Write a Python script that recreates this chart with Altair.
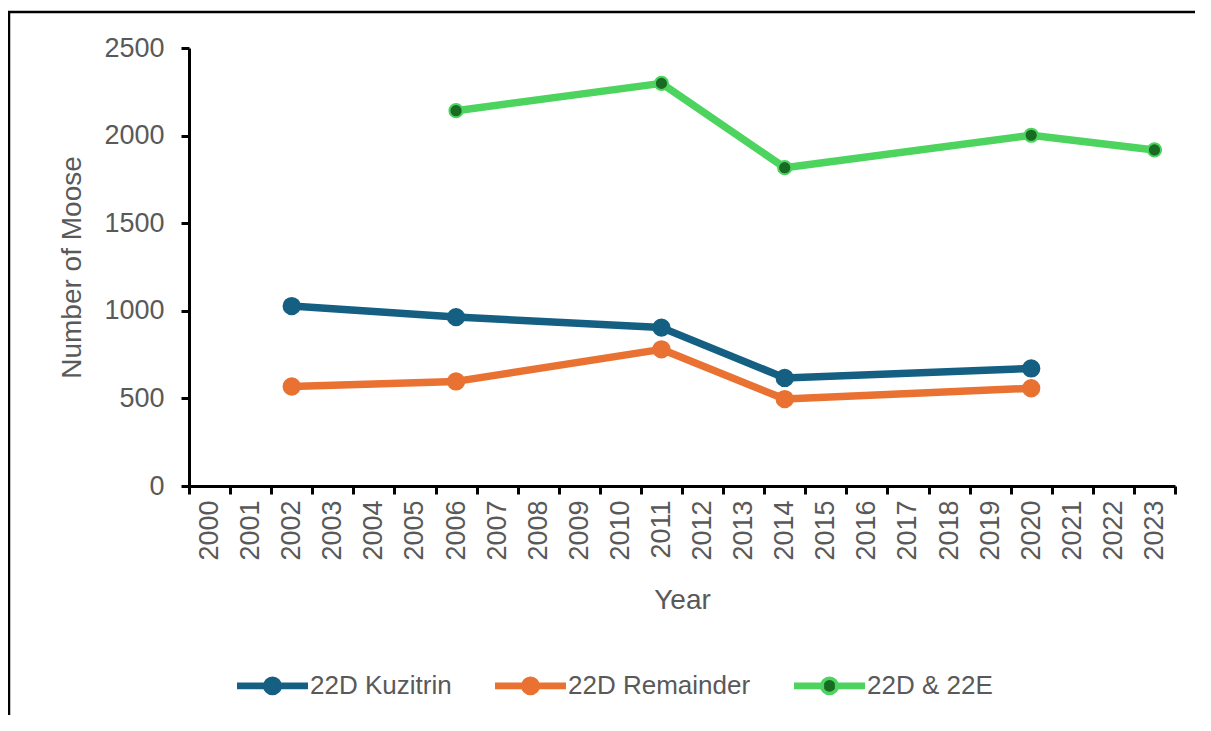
import altair as alt
import pandas as pd

# ---- data ----
years = [str(y) for y in range(2000, 2024)]
series_order = ["22D Kuzitrin", "22D Remainder", "22D & 22E"]

kuz_years = ["2002", "2006", "2011", "2014", "2020"]
kuz_values = [1027, 964, 904, 617, 671]

rem_years = ["2002", "2006", "2011", "2014", "2020"]
rem_values = [568, 597, 780, 496, 558]

e_years = ["2006", "2011", "2014", "2020", "2023"]
e_values = [2142, 2298, 1817, 2002, 1918]

y_ticks = [0, 500, 1000, 1500, 2000, 2500]

line_colors = ["#156082", "#E97132", "#4CD45E"]
fill_colors = ["#156082", "#E97132", "#196B24"]

rows = []
for name, ys, vs in [(series_order[0], kuz_years, kuz_values),
                     (series_order[1], rem_years, rem_values),
                     (series_order[2], e_years, e_values)]:
    for yr, v in zip(ys, vs):
        rows.append({"year": yr, "series": name, "value": v})
df = pd.DataFrame(rows)

W, H = 986, 438
GRAY = "#595959"
FONT = "Liberation Sans"

x_enc = alt.X(
    "year:O",
    scale=alt.Scale(type="band", domain=years, paddingInner=0, paddingOuter=0),
    axis=alt.Axis(
        title="Year", tickBand="extent", labelAngle=-90, labelAlign="right",
        labelBaseline="middle", labelFontSize=27, labelColor=GRAY, labelPadding=6,
        tickSize=8, tickWidth=3, tickColor="black", domainColor="black",
        domainWidth=3, titleFontSize=28, titleColor=GRAY, titleFontWeight="normal",
        titlePadding=26, grid=False, labelFont=FONT, titleFont=FONT,
    ),
)
y_enc = alt.Y(
    "value:Q",
    scale=alt.Scale(domain=[0, 2500], nice=False),
    axis=alt.Axis(
        values=y_ticks, format="d", title="Number of Moose", labelFontSize=27,
        labelColor=GRAY, labelPadding=17, tickSize=8, tickWidth=3,
        tickColor="black", domainColor="black", domainWidth=3, titleFontSize=28,
        titleColor=GRAY, titleFontWeight="normal", titlePadding=17, grid=False,
        labelFont=FONT, titleFont=FONT,
    ),
)

# legend symbol: line segment (two thin bars) + circle marker
R = 0.218
sym_path = (
    "M-0.95,-0.049H-0.2V0.049H-0.95Z"
    "M0.2,-0.049H0.95V0.049H0.2Z"
    f"M{R},0A{R},{R},0,1,1,-{R},0A{R},{R},0,1,1,{R},0Z"
)
legend = alt.Legend(
    orient="none", legendX=46, legendY=600, direction="horizontal", title=None,
    symbolType=sym_path, symbolSize=5041, symbolStrokeWidth=3.5, symbolOpacity=1,
    labelFont=FONT, labelFontSize=26, labelColor=GRAY, labelOffset=0,
    columnPadding=37, labelLimit=500, padding=0,
)

stroke_enc = alt.Stroke("series:N",
                        scale=alt.Scale(domain=series_order, range=line_colors),
                        legend=legend)
fill_enc = alt.Fill("series:N",
                    scale=alt.Scale(domain=series_order, range=fill_colors),
                    legend=legend)

base = alt.Chart(df)

lines = base.mark_line(strokeWidth=7.5, strokeJoin="round", strokeCap="round").encode(
    x=x_enc, y=y_enc, stroke=stroke_enc,
)

points = base.mark_point(filled=True, opacity=1).encode(
    x=x_enc, y=y_enc, stroke=stroke_enc, fill=fill_enc,
    size=alt.condition('datum.series === "22D & 22E"', alt.value(175), alt.value(235)),
    strokeWidth=alt.condition('datum.series === "22D & 22E"', alt.value(2), alt.value(3)),
)

frame_df = pd.DataFrame({"k": [0]})
frame_left = alt.Chart(frame_df).mark_rule(color="black", strokeWidth=2.5).encode(
    x=alt.value(-180), y=alt.value(-36), y2=alt.value(700)
)
frame_top = alt.Chart(frame_df).mark_rule(color="black", strokeWidth=2.5).encode(
    x=alt.value(-181), x2=alt.value(1040), y=alt.value(-36)
)

chart = alt.layer(frame_left, frame_top, lines, points).properties(
    width=W, height=H,
    autosize=alt.AutoSizeParams(type="none"),
    padding={"left": 181, "top": 40, "right": 20, "bottom": 229},
    background="white",
).configure(font=FONT).configure_view(stroke=None)

chart.save("out.html", embed_options={"renderer": "svg", "actions": False})
